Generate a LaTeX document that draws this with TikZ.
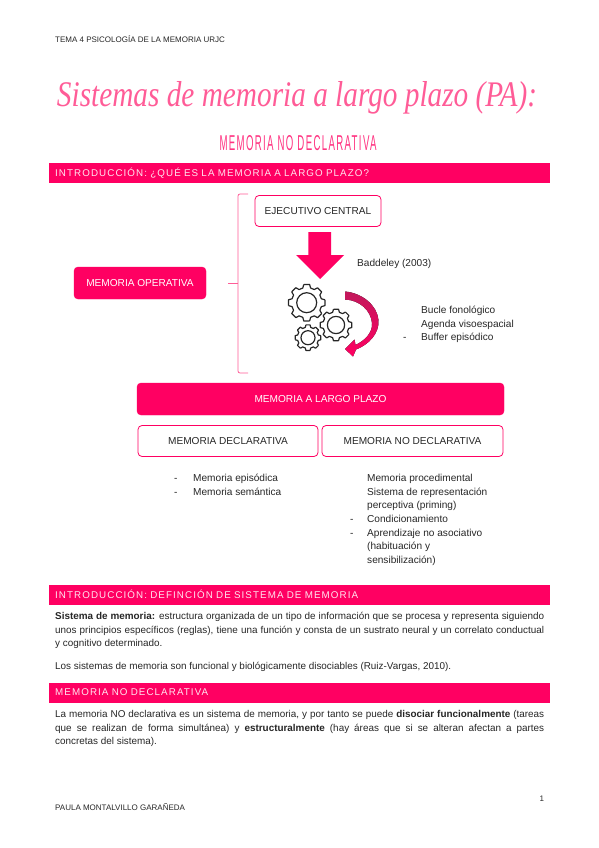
\documentclass[tikz,border=0pt]{standalone}
\usepackage{fontspec}
\usepackage{xcolor}
\setmainfont{Liberation Sans}
\newfontfamily\barfont[LetterSpace=11]{Liberation Sans}
\newfontfamily\titlefont[LetterSpace=14]{Liberation Sans}
\newfontfamily\firmafont{Liberation Serif}
\definecolor{rosa}{HTML}{FF0062}
\definecolor{rosaclaro}{HTML}{FF5C97}
\definecolor{rosaoscuro}{HTML}{C2185B}
\definecolor{texto}{HTML}{262626}
\newcommand{\Engranaje}[3]{
  \begin{scope}[shift={(#1,#2)}]
    \foreach \a in {0,45,...,315}
      \draw[gearline] (\a-9:#3) -- (\a+9:#3) -- (\a+15:0.82*#3) -- (\a+30:0.82*#3) -- (\a+36:#3);
    \draw[gearline] (0,0) circle ({0.54*#3});
  \end{scope}
}
\tikzset{
  gearline/.style={line width=1.2pt,black!85,line join=round},
  rosabox/.style={draw=rosa,fill=rosa,rounded corners=4pt,minimum height=32pt,text=white,inner sep=0pt,font=\fontsize{10.1}{12}\selectfont},
  blancobox/.style={draw=rosa,fill=white,line width=0.8pt,rounded corners=4pt,minimum height=31pt,text=texto,inner sep=0pt,font=\fontsize{10.1}{12}\selectfont},
  barra/.style={anchor=west,fill=rosa,minimum width=501pt,minimum height=20pt,text=white!90!rosa,inner sep=0pt,text width=489pt,align=left,font=\fontsize{9.8}{11}\barfont},
  texto/.style={anchor=base west,inner sep=0pt,text=texto,font=\fontsize{10.1}{12}\selectfont},
  parrafo/.style={anchor=north west,inner sep=0pt,text=texto,text width=489pt,align=justify,font=\fontsize{9.9}{13.2}\selectfont},
  pie/.style={anchor=base west,inner sep=0pt,text=texto,font=\fontsize{8}{10}\selectfont},
  llave/.style={draw=rosaclaro,line width=0.8pt}
}
\begin{document}
\begin{tikzpicture}[x=1pt,y=-1pt]
  \useasboundingbox (0,0) rectangle (599,848);
  % cabecera
  \node[pie] (cabecera) at (55,43) {TEMA 4 PSICOLOGÍA DE LA MEMORIA URJC};
  \node[inner sep=0pt,text=rosaclaro] (titulo) at (297,98) {\resizebox{480pt}{25pt}{\firmafont\itshape Sistemas de memoria a largo plazo (PA):}};
  \node[inner sep=0pt,text=rosa!80] (subtitulo) at (298,143) {\resizebox{157pt}{15pt}{\titlefont MEMORIA NO DECLARATIVA}};
  \node[barra] (barra1) at (49,173) {INTRODUCCIÓN: ¿QUÉ ES LA MEMORIA A LARGO PLAZO?};
  % memoria operativa
  \node[rosabox,minimum width=132pt] (operativa) at (140,283) {MEMORIA OPERATIVA};
  \node[blancobox,minimum width=126pt] (ejecutivo) at (318,211) {EJECUTIVO CENTRAL};
  \coordinate (llavearriba) at (248,194);
  \coordinate (llaveabajo) at (248,373);
  \coordinate (llavepico) at (228,283);
  \draw[llave,rounded corners=2pt] (llavearriba) -- (238,194) -- (238,373) -- (llaveabajo);
  \draw[llave] (llavepico) -- (238,283);
  \fill[rosa] (308.3,232) -- (331,232) -- (331,255) -- (344,255) -- (320,279) -- (296,255) -- (308.3,255) -- cycle;
  \node[texto] (baddeley) at (357,266) {Baddeley (2003)};
  \Engranaje{306.7}{302.7}{18.5}
  \Engranaje{336}{325}{16}
  \Engranaje{308}{337.7}{13}
  \fill[top color=rosaoscuro,bottom color=rosa] (345,291.5) .. controls (362,293) and (377,305) .. (378.5,320) .. controls (379.5,334) and (368,345) .. (356,349.5) -- (353,356.5) -- (345,349) -- (354.5,339.5) -- (355.5,345) .. controls (364,341) and (373,333) .. (372,323) .. controls (371,311) and (360,300) .. (345,299.5) -- cycle;
  \node[texto] (bucle) at (421,313) {Bucle fonológico};
  \node[texto] (agenda) at (421,327) {Agenda visoespacial};
  \node[texto] (buffer) at (421,340) {Buffer episódico};
  \node[texto] (guionbuffer) at (403,340) {-};
  % memoria a largo plazo
  \node[rosabox,minimum width=367pt] (largo) at (320.5,399) {MEMORIA A LARGO PLAZO};
  \node[blancobox,minimum width=180pt] (declarativa) at (228,441) {MEMORIA DECLARATIVA};
  \node[blancobox,minimum width=181pt] (nodeclarativa) at (412.5,441) {MEMORIA NO DECLARATIVA};
  \node[texto] (guion1) at (174,481) {-};
  \node[texto] (episodica) at (193,481) {Memoria episódica};
  \node[texto] (guion2) at (174,495) {-};
  \node[texto] (semantica) at (193,495) {Memoria semántica};
  \node[texto] (procedimental) at (367,481) {Memoria procedimental};
  \node[texto] (sistema) at (367,495) {Sistema de representación};
  \node[texto] (perceptiva) at (367,508) {perceptiva (priming)};
  \node[texto] (guion3) at (350,522) {-};
  \node[texto] (condicionamiento) at (367,522) {Condicionamiento};
  \node[texto] (guion4) at (350,536) {-};
  \node[texto] (aprendizaje) at (367,536) {Aprendizaje no asociativo};
  \node[texto] (habituacion) at (367,549) {(habituación y};
  \node[texto] (sensibilizacion) at (367,563) {sensibilización)};
  % definición
  \node[barra] (barra2) at (49,594.5) {INTRODUCCIÓN: DEFINCIÓN DE SISTEMA DE MEMORIA};
  \node[parrafo] (definicion) at (55,612.5) {\textbf{Sistema de memoria:} estructura organizada de un tipo de información que se procesa y representa siguiendo unos principios específicos (reglas), tiene una función y consta de un sustrato neural y un correlato conductual\linebreak y cognitivo determinado.};
  \node[parrafo] (disociables) at (55,662.5) {Los sistemas de memoria son funcional y biológicamente disociables (Ruiz-Vargas, 2010).};
  \node[barra] (barra3) at (49,692.5) {MEMORIA NO DECLARATIVA};
  \node[parrafo] (nodecl) at (55,710.5) {La memoria NO declarativa es un sistema de memoria, y por tanto se puede \textbf{disociar funcionalmente} \mbox{(tareas} que se realizan de forma simultánea) y \textbf{estructuralmente} (hay áreas que si se alteran afectan a partes\linebreak concretas del sistema).};
  % pie
  \node[pie] (autora) at (55,810) {PAULA MONTALVILLO GARAÑEDA};
  \node[pie] (pagina) at (539.5,801) {1};
\end{tikzpicture}
\end{document}
